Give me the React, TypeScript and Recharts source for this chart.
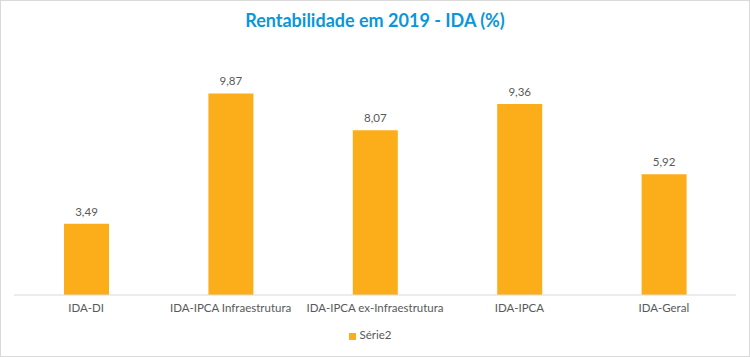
import { Bar, BarChart, LabelList, Legend, XAxis, YAxis } from "recharts";

const categories = [
  "IDA-DI",
  "IDA-IPCA Infraestrutura",
  "IDA-IPCA ex-Infraestrutura",
  "IDA-IPCA",
  "IDA-Geral",
];
const serie2 = [3.49, 9.87, 8.07, 9.36, 5.92];

const data = categories.map((name, i) => ({ name, value: serie2[i] }));

const FONT = "Lato, 'Open Sans', sans-serif";
const fmt = (v: number) => v.toFixed(2).replace(".", ",");

export default function App() {
  return (
    <div
      style={{
        position: "relative",
        width: 750,
        height: 357,
        boxSizing: "border-box",
        border: "1px solid #d9d9d9",
        background: "#fff",
        fontFamily: FONT,
      }}
    >
      <style>{"body{margin:0}"}</style>
      <div
        style={{
          position: "absolute",
          top: 8,
          left: 0,
          width: "100%",
          textAlign: "center",
          color: "#0a96d8",
          fontWeight: 700,
          fontSize: 18,
        }}
      >
        Rentabilidade em 2019 - IDA (%)
      </div>
      <div style={{ position: "absolute", top: -1, left: -1 }}>
        <BarChart
          width={750}
          height={357}
          data={data}
          margin={{ top: 50, right: 14, bottom: 0, left: 14 }}
        >
          <XAxis
            dataKey="name"
            height={49}
            tickLine={false}
            axisLine={{ stroke: "#d9d9d9" }}
            tick={{ fontSize: 11.5, fill: "#595959", fontFamily: FONT }}
            tickMargin={3}
            interval={0}
          />
          <YAxis hide domain={[0, 12]} />
          <Legend
            verticalAlign="bottom"
            iconType="square"
            iconSize={7}
            wrapperStyle={{ top: 328, fontSize: 11.5, fontFamily: FONT }}
            formatter={(v) => <span style={{ color: "#595959" }}>{v}</span>}
          />
          <Bar
            dataKey="value"
            name="Série2"
            fill="#fcae1a"
            barSize={45}
            isAnimationActive={false}
          >
            <LabelList
              dataKey="value"
              position="top"
              offset={8}
              formatter={(v: number) => fmt(v)}
              style={{ fontSize: 11.5, fill: "#595959", fontFamily: FONT }}
            />
          </Bar>
        </BarChart>
      </div>
    </div>
  );
}
